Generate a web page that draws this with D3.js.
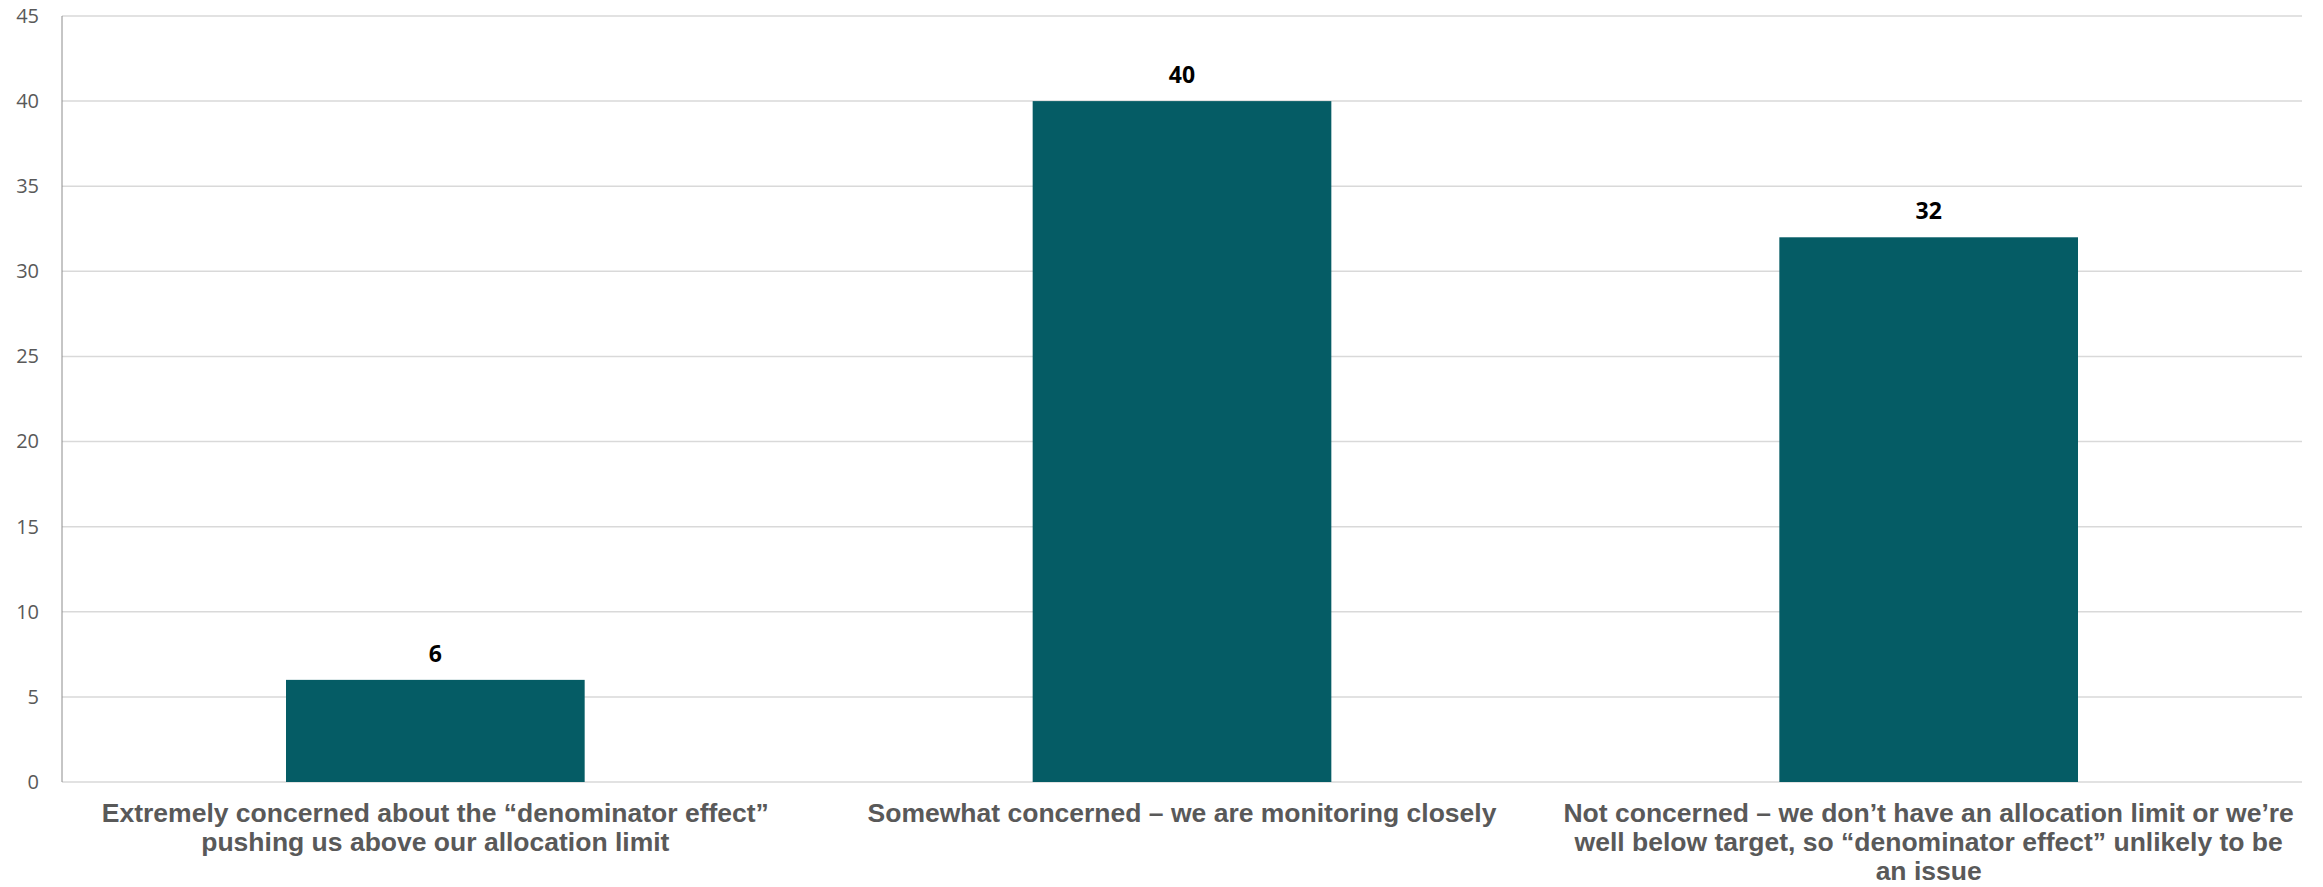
<!DOCTYPE html>
<html>
<head>
<meta charset="utf-8">
<script src="https://cdn.jsdelivr.net/npm/d3@7"></script>
<style>
  html, body { margin: 0; padding: 0; background: #ffffff; }
  svg { display: block; }
</style>
</head>
<body>
<svg id="chart" width="2323" height="887"></svg>
<script>
// ---- data ----
const categories = [
  "Extremely concerned about the “denominator effect” pushing us above our allocation limit",
  "Somewhat concerned – we are monitoring closely",
  "Not concerned – we don’t have an allocation limit or we’re well below target, so “denominator effect” unlikely to be an issue"
];
const categoryLines = [
  ["Extremely concerned about the “denominator effect”", "pushing us above our allocation limit"],
  ["Somewhat concerned – we are monitoring closely"],
  ["Not concerned – we don’t have an allocation limit or we’re", "well below target, so “denominator effect” unlikely to be", "an issue"]
];
const values = [6, 40, 32];
const yTicks = [0, 5, 10, 15, 20, 25, 30, 35, 40, 45];

// ---- layout ----
const W = 2323, H = 887;
const mLeft = 62, mRight = 2302, mTop = 16, mBottom = 782;

const svg = d3.select("#chart");

const x = d3.scaleBand()
  .domain(categories)
  .range([mLeft, mRight])
  .paddingInner(0.6)
  .paddingOuter(0.3);

const y = d3.scaleLinear()
  .domain([0, 45])
  .range([mBottom, mTop]);

// gridlines
svg.append("g")
  .selectAll("line")
  .data(yTicks)
  .join("line")
  .attr("x1", mLeft)
  .attr("x2", mRight)
  .attr("y1", d => y(d))
  .attr("y2", d => y(d))
  .attr("stroke", "#d9d9d9")
  .attr("stroke-width", 1.5);

// y axis labels
const yAxis = d3.axisLeft(y).tickValues(yTicks).tickSize(0).tickPadding(23);
const gy = svg.append("g")
  .attr("transform", `translate(${mLeft},0)`)
  .call(yAxis);
gy.select(".domain").remove();
gy.selectAll("text")
  .attr("fill", "#595959")
  .style("font-family", "'Open Sans', 'Liberation Sans', sans-serif")
  .style("font-size", "20px");

// bars
svg.append("g")
  .selectAll("rect")
  .data(values)
  .join("rect")
  .attr("x", (d, i) => x(categories[i]))
  .attr("width", x.bandwidth())
  .attr("y", d => y(d))
  .attr("height", d => y(0) - y(d))
  .attr("fill", "#055c65");

// left axis line
svg.append("line")
  .attr("x1", mLeft).attr("x2", mLeft)
  .attr("y1", mTop).attr("y2", mBottom)
  .attr("stroke", "#8c8c8c")
  .attr("stroke-width", 1);

// value labels
svg.append("g")
  .selectAll("text")
  .data(values)
  .join("text")
  .attr("x", (d, i) => x(categories[i]) + x.bandwidth() / 2)
  .attr("y", d => y(d) - 18)
  .attr("text-anchor", "middle")
  .attr("fill", "#000000")
  .style("font-family", "'Open Sans', 'Liberation Sans', sans-serif")
  .style("font-weight", "bold")
  .style("font-size", "23px")
  .text(d => d);

// category labels
const catG = svg.append("g");
categories.forEach((c, i) => {
  const t = catG.append("text")
    .attr("text-anchor", "middle")
    .attr("fill", "#595959")
    .style("font-family", "'Liberation Sans', Arial, sans-serif")
    .style("font-weight", "bold")
    .style("font-size", "26.5px");
  categoryLines[i].forEach((ln, j) => {
    t.append("tspan")
      .attr("x", x(c) + x.bandwidth() / 2)
      .attr("y", 822 + j * 29)
      .text(ln);
  });
});
</script>
</body>
</html>
